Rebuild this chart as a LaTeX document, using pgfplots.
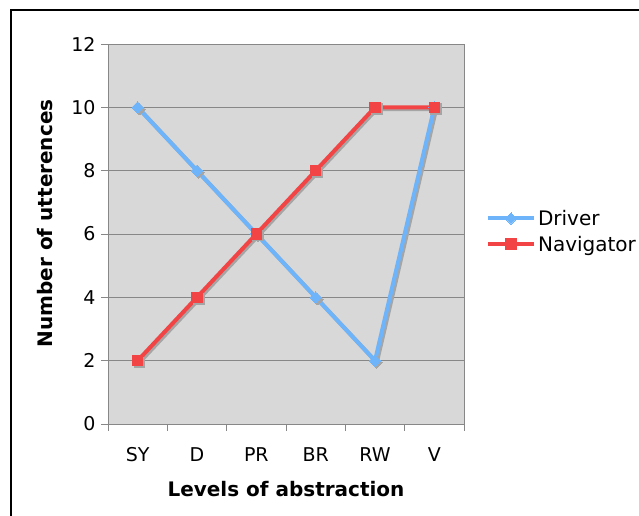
\documentclass[border=0pt]{standalone}
\usepackage{fontspec}
\setmainfont{DejaVu Sans}
\usepackage{pgfplots}
\pgfplotsset{compat=1.18}
\definecolor{driver}{RGB}{110,180,250}
\definecolor{navig}{RGB}{242,68,68}
\definecolor{plotbg}{RGB}{216,216,216}
\definecolor{shadowc}{RGB}{165,165,165}
\definecolor{gridc}{RGB}{135,135,135}

\begin{document}
\begin{tikzpicture}
\useasboundingbox (0pt,0pt) rectangle (639pt,516pt);
\clip (0pt,0pt) rectangle (639pt,516pt);
\draw[line width=1.5pt] (11pt,-20pt) -- (11pt,506pt) -- (660pt,506pt);
\begin{axis}[
  at={(108pt,92pt)}, anchor=south west,
  scale only axis, width=356pt, height=380pt,
  xmin=-0.5, xmax=5.5, ymin=0, ymax=12,
  xtick={0,...,5}, xticklabels={SY,D,PR,BR,RW,V},
  minor xtick={-0.5,0.5,...,5.5},
  ytick={0,2,...,12},
  /pgf/number format/assume math mode=true,
  tick pos=left, tick align=outside,
  major tick length=7pt, minor tick length=7pt,
  major x tick style={draw=none},
  every tick/.style={gridc, line width=0.8pt},
  axis line style={gridc, line width=0.8pt},
  axis background/.style={fill=plotbg},
  ymajorgrids, grid style={gridc, line width=0.8pt},
  tick label style={font=\fontsize{19}{22}\selectfont},
  xticklabel style={yshift=-13pt},
  yticklabel style={xshift=-2pt},
  xlabel={Levels of abstraction},
  ylabel={Number of utterences},
  label style={font=\bfseries\fontsize{20}{23}\selectfont},
  xlabel style={at={(axis description cs:0.5,-0.171)}, anchor=center},
  ylabel style={at={(axis description cs:-0.177,0.528)}, anchor=center},
  legend style={at={(1.053,0.507)}, anchor=west, draw=none, fill=none,
    font=\fontsize{20}{24}\selectfont, row sep=5pt},
  legend cell align=left,
  legend image code/.code={%
    \draw[#1, mark repeat=2, mark phase=2] plot coordinates {(0pt,0pt) (23pt,0pt) (46pt,0pt)};},
  every axis plot/.append style={line width=4pt, line join=round},
]
\addplot[shadowc, forget plot, mark=square*, mark size=4pt, mark options={rotate=45, solid, line width=0pt},
  xshift=1.8pt, yshift=-1.8pt] coordinates {
  (0,10) (1,8) (2,6) (3,4) (4,2) (5,10)};
\addplot[shadowc, forget plot, mark=square*, mark size=5.2pt, mark options={solid, line width=0pt},
  xshift=1.8pt, yshift=-1.8pt] coordinates {
  (0,2) (1,4) (2,6) (3,8) (4,10) (5,10)};
\addplot[driver, mark=square*, mark size=4pt, mark options={rotate=45, solid, line width=0pt}] coordinates {
  (0,10) (1,8) (2,6) (3,4) (4,2) (5,10)};
\addlegendentry{Driver}
\addplot[navig, mark=square*, mark size=5.2pt, mark options={solid, line width=0pt}] coordinates {
  (0,2) (1,4) (2,6) (3,8) (4,10) (5,10)};
\addlegendentry{Navigator}
\end{axis}
\end{tikzpicture}
\end{document}
